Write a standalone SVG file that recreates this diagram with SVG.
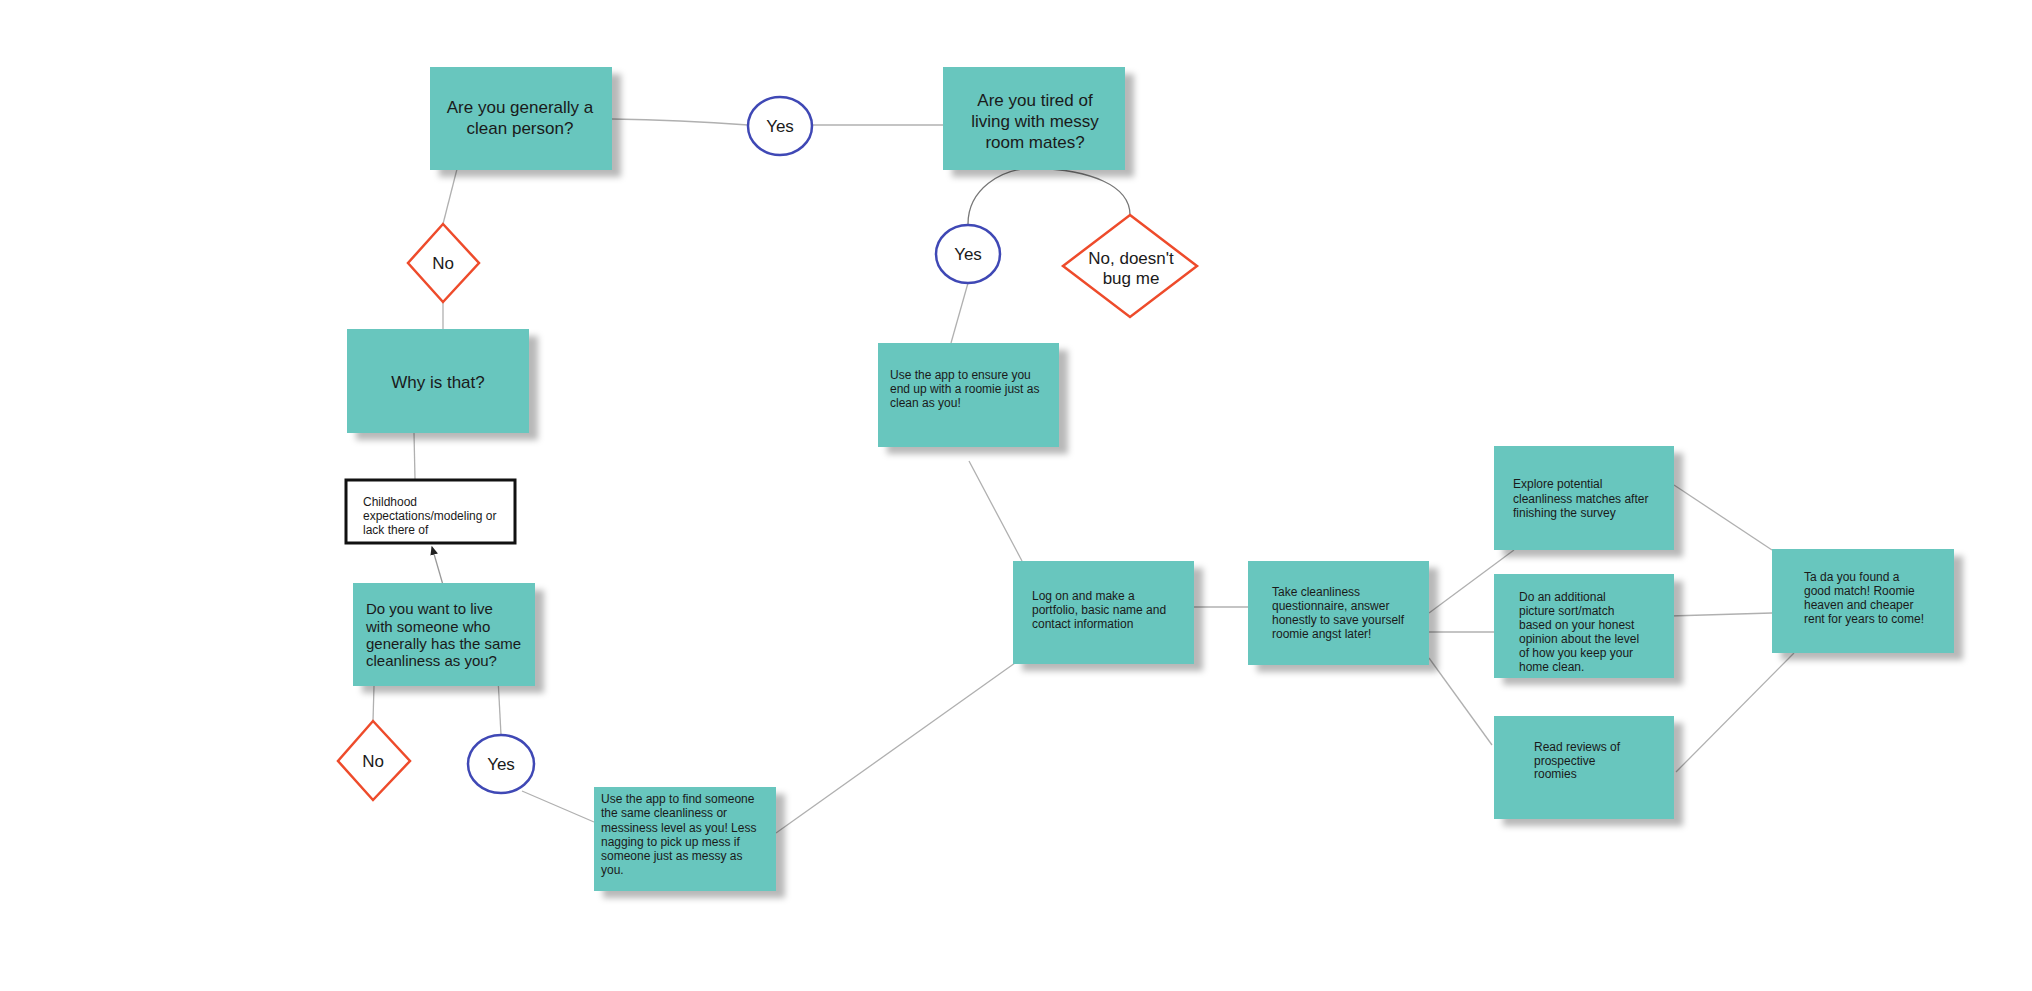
<svg xmlns="http://www.w3.org/2000/svg" width="2032" height="991" viewBox="0 0 2032 991">
<style>
.b{fill:#67c6be;filter:url(#sh)}
.t{font-family:"Liberation Sans",Arial,sans-serif;fill:#1a1a1a}
.L{font-size:17px}
.S{font-size:12px}
.c{fill:#fff;stroke:#3f48b5;stroke-width:2.5}
.d{fill:#fff;stroke:#ee4b2b;stroke-width:2.5}
#conn path,#conn line{stroke:#b0b0b0;stroke-width:1.3;fill:none}
</style>
<defs>
<filter id="sh" x="-10%" y="-10%" width="130%" height="130%"><feDropShadow dx="9" dy="7" stdDeviation="3" flood-color="#000" flood-opacity="0.28"/></filter>
<marker id="ar" markerWidth="8" markerHeight="8" refX="6" refY="4" orient="auto"><path d="M0,1 L7,4 L0,7z" fill="#222"/></marker>
</defs>
<rect width="2032" height="991" fill="#fff"/>
<g id="conn">
<path d="M612 119 Q680 120 748 125"/>
<line x1="812" y1="125" x2="943" y2="125"/>
<line x1="457" y1="169" x2="443" y2="224"/>
<line x1="443" y1="302" x2="443" y2="329"/>
<line x1="414" y1="433" x2="415" y2="479"/>
<path d="M968 224 C968 190 1000 168 1035 168 C1090 170 1130 185 1130 215" style="stroke:#777"/>
<line x1="968" y1="283" x2="951" y2="343"/>
<line x1="969" y1="461" x2="1022" y2="561"/>
<line x1="443" y1="585" x2="432" y2="547" style="stroke:#999" marker-end="url(#ar)"/>
<line x1="374" y1="686" x2="373" y2="721"/>
<line x1="498" y1="678" x2="501" y2="735"/>
<line x1="522" y1="791" x2="594" y2="822"/>
<line x1="776" y1="833" x2="1015" y2="663"/>
<line x1="1194" y1="607" x2="1248" y2="607"/>
<line x1="1429" y1="613" x2="1514" y2="550"/>
<line x1="1429" y1="632" x2="1494" y2="632"/>
<line x1="1429" y1="658" x2="1492" y2="745"/>
<line x1="1674" y1="485" x2="1772" y2="550"/>
<line x1="1670" y1="616" x2="1772" y2="613"/>
<line x1="1676" y1="772" x2="1794" y2="653"/>
</g>
<g id="q1"><rect class="b" x="430" y="67" width="182" height="103"/><text class="t L" text-anchor="middle"><tspan x="520" y="113">Are you generally a</tspan><tspan x="520" y="134">clean person?</tspan></text></g>
<g id="yes1"><ellipse class="c" cx="780" cy="126" rx="32" ry="29"/><text class="t L" x="780" y="132" text-anchor="middle">Yes</text></g>
<g id="q2"><rect class="b" x="943" y="67" width="182" height="103"/><text class="t L" text-anchor="middle"><tspan x="1035" y="106">Are you tired of</tspan><tspan x="1035" y="127">living with messy</tspan><tspan x="1035" y="148">room mates?</tspan></text></g>
<g id="yes2"><ellipse class="c" cx="968" cy="254" rx="32" ry="29"/><text class="t L" x="968" y="260" text-anchor="middle">Yes</text></g>
<g id="no2"><polygon class="d" points="1130,215 1197,266 1130,317 1063,266"/><text class="t L" text-anchor="middle"><tspan x="1131" y="264">No, doesn't</tspan><tspan x="1131" y="284">bug me</tspan></text></g>
<g id="no1"><polygon class="d" points="443,224 479,263 443,302 408,263"/><text class="t L" x="443" y="269" text-anchor="middle">No</text></g>
<g id="why"><rect class="b" x="347" y="329" width="182" height="104"/><text class="t L" x="438" y="388" text-anchor="middle">Why is that?</text></g>
<g id="app1"><rect class="b" x="878" y="343" width="181" height="104"/><text class="t S"><tspan x="890" y="379">Use the app to ensure you</tspan><tspan x="890" y="393">end up with a roomie just as</tspan><tspan x="890" y="407">clean as you!</tspan></text></g>
<g id="child"><rect x="346" y="480" width="169" height="63" fill="#fff" stroke="#111" stroke-width="3"/><text class="t S"><tspan x="363" y="506">Childhood</tspan><tspan x="363" y="520">expectations/modeling or</tspan><tspan x="363" y="534">lack there of</tspan></text></g>
<g id="q3"><rect class="b" x="353" y="583" width="182" height="103"/><text class="t" style="font-size:15px"><tspan x="366" y="614">Do you want to live</tspan><tspan x="366" y="632">with someone who</tspan><tspan x="366" y="649">generally has the same</tspan><tspan x="366" y="666">cleanliness as you?</tspan></text></g>
<g id="no3"><polygon class="d" points="373,721 410,761 373,800 338,761"/><text class="t L" x="373" y="767" text-anchor="middle">No</text></g>
<g id="yes3"><ellipse class="c" cx="501" cy="764" rx="33" ry="29"/><text class="t L" x="501" y="770" text-anchor="middle">Yes</text></g>
<g id="app2"><rect class="b" x="594" y="787" width="182" height="104"/><text class="t S"><tspan x="601" y="803">Use the app to find someone</tspan><tspan x="601" y="817">the same cleanliness or</tspan><tspan x="601" y="832">messiness level as you! Less</tspan><tspan x="601" y="846">nagging to pick up mess if</tspan><tspan x="601" y="860">someone just as messy as</tspan><tspan x="601" y="874">you.</tspan></text></g>
<g id="log"><rect class="b" x="1013" y="561" width="181" height="103"/><text class="t S"><tspan x="1032" y="600">Log on and make a</tspan><tspan x="1032" y="614">portfolio, basic name and</tspan><tspan x="1032" y="628">contact information</tspan></text></g>
<g id="take"><rect class="b" x="1248" y="561" width="181" height="104"/><text class="t S"><tspan x="1272" y="596">Take cleanliness</tspan><tspan x="1272" y="610">questionnaire, answer</tspan><tspan x="1272" y="624">honestly to save yourself</tspan><tspan x="1272" y="638">roomie angst later!</tspan></text></g>
<g id="explore"><rect class="b" x="1494" y="446" width="180" height="104"/><text class="t S"><tspan x="1513" y="488">Explore potential</tspan><tspan x="1513" y="503">cleanliness matches after</tspan><tspan x="1513" y="517">finishing the survey</tspan></text></g>
<g id="pic"><rect class="b" x="1494" y="574" width="180" height="104"/><text class="t S"><tspan x="1519" y="601">Do an additional</tspan><tspan x="1519" y="615">picture sort/match</tspan><tspan x="1519" y="629">based on your honest</tspan><tspan x="1519" y="643">opinion about the level</tspan><tspan x="1519" y="657">of how you keep your</tspan><tspan x="1519" y="671">home clean.</tspan></text></g>
<g id="read"><rect class="b" x="1494" y="716" width="180" height="103"/><text class="t S"><tspan x="1534" y="751">Read reviews of</tspan><tspan x="1534" y="765">prospective</tspan><tspan x="1534" y="778">roomies</tspan></text></g>
<g id="tada"><rect class="b" x="1772" y="549" width="182" height="104"/><text class="t S"><tspan x="1804" y="581">Ta da you found a</tspan><tspan x="1804" y="595">good match! Roomie</tspan><tspan x="1804" y="609">heaven and cheaper</tspan><tspan x="1804" y="623">rent for years to come!</tspan></text></g>
</svg>
